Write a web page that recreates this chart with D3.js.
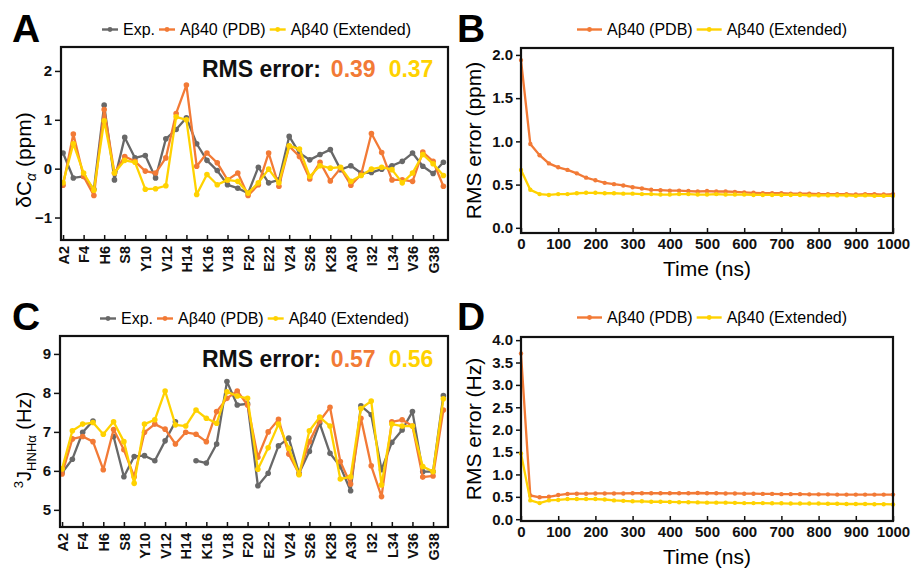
<!DOCTYPE html>
<html>
<head>
<meta charset="utf-8">
<script src="https://cdn.jsdelivr.net/npm/d3@7"></script>
<style>
body { margin: 0; background: #fff; }
text { font-family: "Liberation Sans", Arial, sans-serif; }
</style>
</head>
<body>
<svg id="fig" width="913" height="568"></svg>
<script>
const residues = [2,3,4,5,6,7,8,9,10,11,12,13,14,15,16,17,18,19,20,21,22,23,24,25,26,27,28,29,30,31,32,33,34,35,36,37,38,39]
const tickResidues = [2,4,6,8,10,12,14,16,18,20,22,24,26,28,30,32,34,36,38]
const tickLabels = ["A2","F4","H6","S8","Y10","V12","H14","K16","V18","F20","E22","V24","S26","K28","A30","I32","L34","V36","G38"]

// panel A: delta C-alpha (ppm)
const caExp = [0.32,-0.19,-0.16,-0.42,1.30,-0.23,0.64,0.22,0.27,-0.19,0.61,0.80,1.04,0.51,0.17,-0.04,-0.33,-0.40,-0.50,0.03,-0.29,-0.23,0.66,0.32,0.18,0.29,0.39,-0.02,0.06,-0.09,-0.08,-0.01,0.06,0.15,0.32,0.05,-0.10,0.13]
const caPdb = [-0.34,0.71,-0.16,-0.55,1.21,-0.09,0.25,0.15,-0.05,-0.09,0.22,1.13,1.71,0.05,0.32,0.12,-0.23,-0.09,-0.55,-0.33,0.32,-0.36,0.46,0.25,-0.21,0.13,-0.25,0.01,-0.34,-0.12,0.72,0.33,-0.23,-0.23,-0.26,0.34,0.15,-0.36]
const caExt = [-0.29,0.51,-0.09,-0.44,0.98,-0.09,0.17,0.13,-0.42,-0.41,-0.35,1.06,1.00,-0.53,-0.12,-0.33,-0.23,-0.26,-0.50,-0.29,-0.01,-0.29,0.47,0.40,-0.16,0.06,0.01,0.03,-0.26,-0.14,-0.01,0.03,-0.02,-0.29,-0.09,0.29,0.10,-0.14]

// panel C: 3J HNHa (Hz), null = no experimental value
const jExp = [5.95,6.30,6.99,7.28,null,6.88,5.85,6.37,6.39,6.26,6.77,7.26,null,6.26,6.20,6.69,8.29,7.69,7.72,5.62,5.94,6.64,6.84,5.94,6.50,7.22,6.45,6.11,5.49,7.67,7.44,6.03,6.73,7.05,7.52,5.98,5.98,7.93]
const jPdb = [5.92,6.82,6.88,6.75,6.03,7.06,6.54,5.85,6.99,7.20,7.07,6.69,6.99,6.94,6.75,7.52,7.86,8.05,7.69,6.35,7.00,7.32,6.43,5.92,6.75,7.28,7.63,6.24,5.66,7.35,6.13,5.34,7.26,7.31,7.15,5.84,5.87,7.56]
const jExt = [6.05,7.03,7.20,7.24,6.94,7.26,6.75,5.68,7.20,7.31,8.05,7.18,7.15,7.56,7.35,7.22,8.03,7.92,7.86,6.04,6.59,7.20,6.58,5.90,7.03,7.38,7.15,5.79,5.85,7.60,7.79,5.64,7.20,7.15,7.15,6.11,5.98,7.85]

// panels B and D: RMS error over time
const times = [0,25,50,75,100,125,150,175,200,225,250,275,300,325,350,375,400,425,450,475,500,525,550,575,600,625,650,675,700,725,750,775,800,825,850,875,900,925,950,975,1000]
const csRmsPdb = [1.94,0.97,0.84,0.745,0.70,0.67,0.63,0.58,0.55,0.52,0.505,0.49,0.47,0.455,0.44,0.435,0.43,0.43,0.425,0.42,0.425,0.42,0.42,0.415,0.41,0.405,0.40,0.40,0.40,0.395,0.395,0.395,0.39,0.39,0.39,0.39,0.385,0.39,0.39,0.385,0.39]
const csRmsExt = [0.67,0.44,0.39,0.38,0.39,0.39,0.40,0.405,0.405,0.40,0.40,0.395,0.395,0.39,0.39,0.385,0.385,0.39,0.39,0.385,0.385,0.39,0.385,0.385,0.385,0.38,0.38,0.38,0.38,0.38,0.38,0.375,0.375,0.375,0.375,0.375,0.37,0.375,0.37,0.37,0.37]
const jRmsPdb = [3.70,0.53,0.49,0.50,0.54,0.565,0.57,0.57,0.575,0.575,0.575,0.575,0.58,0.58,0.58,0.58,0.58,0.58,0.58,0.585,0.58,0.58,0.575,0.575,0.57,0.57,0.565,0.565,0.56,0.56,0.56,0.555,0.555,0.555,0.55,0.55,0.55,0.55,0.55,0.55,0.55]
const jRmsExt = [1.47,0.42,0.36,0.42,0.43,0.45,0.45,0.45,0.45,0.44,0.42,0.41,0.40,0.40,0.39,0.39,0.385,0.38,0.38,0.375,0.37,0.37,0.37,0.365,0.36,0.36,0.36,0.355,0.355,0.35,0.35,0.35,0.35,0.345,0.345,0.34,0.34,0.34,0.335,0.335,0.33]

const gray = '#686868', orange = '#F27A36', yellow = '#FFD200'

const svg = d3.select('#fig')

function panelLetter(x, y, letter) {
    svg.append('text').attr('x', x).attr('y', y)
        .attr('font-size', 39).attr('font-weight', 'bold').text(letter)
}

function legend(x, y, items, symW) {
    let g = svg.append('g').attr('transform', `translate(${x},${y})`)
    let cx = 0
    items.forEach(it => {
        g.append('line').attr('x1', cx).attr('x2', cx + symW).attr('y1', -5.5).attr('y2', -5.5)
            .attr('stroke', it.color).attr('stroke-width', 2.4)
        g.append('circle').attr('cx', cx + symW / 2).attr('cy', -5.5).attr('r', 2.4).attr('fill', it.color)
        let t = g.append('text').attr('x', cx + symW + 5).attr('y', 0).attr('font-size', 16).text(it.name)
        cx += symW + 5 + t.node().getComputedTextLength() + 4
    })
}

function drawBox(box) {
    svg.append('rect').attr('x', box.l).attr('y', box.t)
        .attr('width', box.r - box.l).attr('height', box.b - box.t)
        .attr('fill', 'none').attr('stroke', '#111').attr('stroke-width', 2.2)
}

function styleAxis(g) {
    g.select('.domain').remove()
    g.selectAll('line').attr('stroke', '#111').attr('stroke-width', 1.5)
    g.selectAll('text').attr('font-size', 15).attr('font-weight', 'bold').attr('fill', '#111')
        .attr('font-family', '"Liberation Sans", Arial, sans-serif')
}

function residuePanel(box, yDomain, yTicks, series, rms, rmsY) {
    let x = d3.scaleLinear().domain([1.8, 39.45]).range([box.l, box.r])
    let y = d3.scaleLinear().domain(yDomain).range([box.b, box.t])

    let xa = svg.append('g').attr('transform', `translate(0,${box.b})`)
        .call(d3.axisBottom(x).tickValues(tickResidues).tickSize(-5)
            .tickFormat((d, i) => tickLabels[i]))
    styleAxis(xa)
    xa.selectAll('text')
        .attr('transform', 'rotate(-90)')
        .attr('x', -6).attr('y', 0).attr('dy', '0.36em')
        .attr('text-anchor', 'end').attr('font-size', 14.5)

    let ya = svg.append('g').attr('transform', `translate(${box.l},0)`)
        .call(d3.axisLeft(y).tickValues(yTicks).tickSize(6).tickPadding(3).tickFormat(d3.format('d')))
    styleAxis(ya)

    let line = d3.line().defined(d => d[1] != null).x(d => x(d[0])).y(d => y(d[1]))
    series.forEach(s => {
        let pts = residues.map((r, i) => [r, s.values[i]])
        svg.append('path').datum(pts).attr('d', line)
            .attr('fill', 'none').attr('stroke', s.color).attr('stroke-width', 2.3)
            .attr('stroke-linejoin', 'round')
        svg.append('g').selectAll('circle').data(pts.filter(d => d[1] != null)).join('circle')
            .attr('cx', d => x(d[0])).attr('cy', d => y(d[1])).attr('r', 2.8).attr('fill', s.color)
    })
    drawBox(box)

    let t = svg.append('text').attr('x', 202).attr('y', rmsY)
        .attr('font-size', 23).attr('font-weight', 'bold')
    t.append('tspan').attr('fill', '#111').text('RMS error:')
    t.append('tspan').attr('dx', 10).attr('fill', orange).text(rms[0])
    t.append('tspan').attr('dx', 13).attr('fill', yellow).text(rms[1])
}

function timePanel(box, yDomain, yTicks, series, ylabel) {
    let x = d3.scaleLinear().domain([0, 1000]).range([box.l, box.r])
    let y = d3.scaleLinear().domain(yDomain).range([box.b, box.t])

    let xa = svg.append('g').attr('transform', `translate(0,${box.b})`)
        .call(d3.axisBottom(x).tickValues(d3.range(0, 1001, 100)).tickSize(-5).tickFormat(d3.format('d')))
    styleAxis(xa)
    xa.selectAll('text').attr('y', 5).attr('dy', '0.71em')

    let ya = svg.append('g').attr('transform', `translate(${box.l},0)`)
        .call(d3.axisLeft(y).tickValues(yTicks).tickSize(5).tickPadding(3).tickFormat(d3.format('.1f')))
    styleAxis(ya)

    let line = d3.line().x(d => x(d[0])).y(d => y(d[1]))
    series.forEach(s => {
        let pts = times.map((t, i) => [t, s.values[i]])
        svg.append('path').datum(pts).attr('d', line)
            .attr('fill', 'none').attr('stroke', s.color).attr('stroke-width', 2.3)
        svg.append('g').selectAll('circle').data(pts).join('circle')
            .attr('cx', d => x(d[0])).attr('cy', d => y(d[1])).attr('r', 2.2).attr('fill', s.color)
    })
    drawBox(box)

    svg.append('text').attr('transform', `translate(${box.l - 40},${(box.t + box.b) / 2}) rotate(-90)`)
        .attr('text-anchor', 'middle').attr('font-size', 21).text(ylabel)
    svg.append('text').attr('x', (box.l + box.r) / 2).attr('y', box.b + 43)
        .attr('text-anchor', 'middle').attr('font-size', 21).text('Time (ns)')
}

// A
panelLetter(12, 42, 'A')
legend(102, 35, [{name: 'Exp.', color: gray}, {name: 'Aβ40 (PDB)', color: orange}, {name: 'Aβ40 (Extended)', color: yellow}], 16)
residuePanel({l: 61, r: 448, t: 47, b: 240}, [-1.46, 2.49], [-1, 0, 1, 2],
    [{values: caExp, color: gray}, {values: caPdb, color: orange}, {values: caExt, color: yellow}],
    ['0.39', '0.37'], 77)
let la = svg.append('text').attr('transform', 'translate(31,160) rotate(-90)')
    .attr('text-anchor', 'middle').attr('font-size', 21)
la.append('tspan').text('δC')
la.append('tspan').attr('font-size', 14).attr('dy', 5).attr('font-style', 'italic').text('α')
la.append('tspan').attr('dy', -5).text(' (ppm)')

// C
panelLetter(12, 330, 'C')
legend(100, 324, [{name: 'Exp.', color: gray}, {name: 'Aβ40 (PDB)', color: orange}, {name: 'Aβ40 (Extended)', color: yellow}], 16)
residuePanel({l: 60, r: 448, t: 336, b: 527}, [4.56, 9.46], [5, 6, 7, 8, 9],
    [{values: jExp, color: gray}, {values: jPdb, color: orange}, {values: jExt, color: yellow}],
    ['0.57', '0.56'], 367)
let lc = svg.append('text').attr('transform', 'translate(31,440) rotate(-90)')
    .attr('text-anchor', 'middle').attr('font-size', 20)
lc.append('tspan').attr('font-size', 13).attr('dy', -8).text('3')
lc.append('tspan').attr('dy', 8).text('J')
lc.append('tspan').attr('font-size', 13).attr('dy', 5).text('HNHα')
lc.append('tspan').attr('dy', -5).text(' (Hz)')

// B
panelLetter(457, 42, 'B')
legend(577, 35, [{name: 'Aβ40 (PDB)', color: orange}, {name: 'Aβ40 (Extended)', color: yellow}], 25)
timePanel({l: 521, r: 893, t: 48, b: 233}, [-0.06, 2.08], [0, 0.5, 1, 1.5, 2],
    [{values: csRmsPdb, color: orange}, {values: csRmsExt, color: yellow}], 'RMS error (ppm)')

// D
panelLetter(457, 330, 'D')
legend(577, 323, [{name: 'Aβ40 (PDB)', color: orange}, {name: 'Aβ40 (Extended)', color: yellow}], 25)
timePanel({l: 521, r: 893, t: 337, b: 521}, [-0.04, 4.07], [0, 0.5, 1, 1.5, 2, 2.5, 3, 3.5, 4],
    [{values: jRmsPdb, color: orange}, {values: jRmsExt, color: yellow}], 'RMS error (Hz)')
</script>
</body>
</html>
